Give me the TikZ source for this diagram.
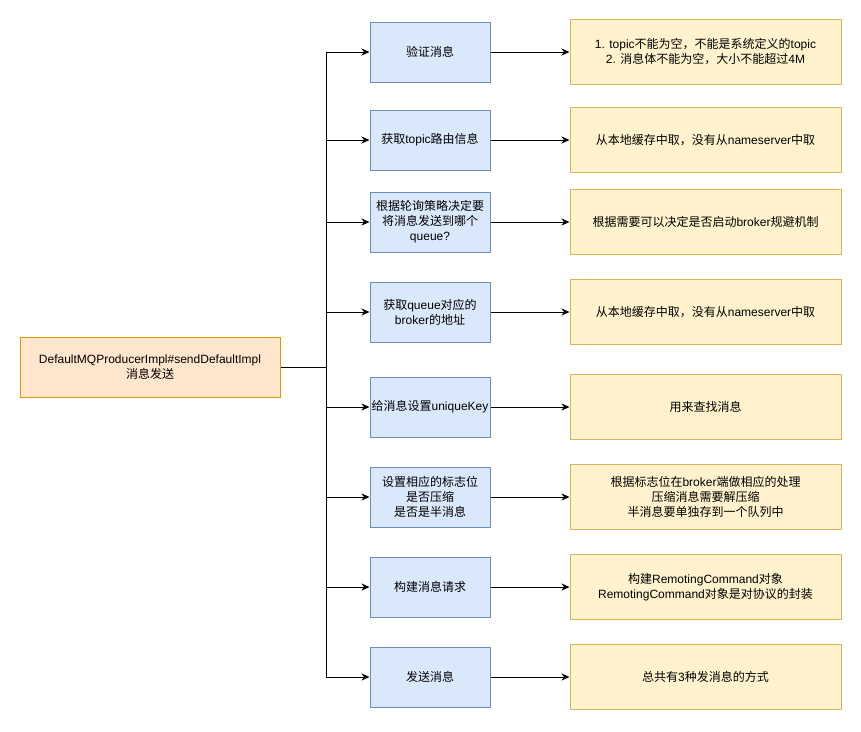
\documentclass[tikz,border=0pt]{standalone}
\usepackage{fontspec}
\setmainfont{Liberation Sans}
\newfontfamily\cjk{Noto Sans CJK SC}
\usetikzlibrary{arrows.meta}
\definecolor{midfill}{HTML}{DAE8FC}
\definecolor{midline}{HTML}{6C8EBF}
\definecolor{notefill}{HTML}{FFF2CC}
\definecolor{noteline}{HTML}{D6B656}
\definecolor{rootfill}{HTML}{FFE6CC}
\definecolor{rootline}{HTML}{D79B00}
\tikzset{
 base/.style={draw, line width=1pt, align=center, inner sep=0pt, font=\fontsize{12}{15}\selectfont},
 midbox/.style={base, fill=midfill, draw=midline, minimum width=120pt, minimum height=60pt},
 notebox/.style={base, fill=notefill, draw=noteline, minimum width=271pt, minimum height=65pt},
 rootbox/.style={base, fill=rootfill, draw=rootline, minimum width=260pt, minimum height=60pt},
 link/.style={draw, line width=1pt, -{Stealth[length=8pt,width=7pt,inset=2.5pt]}},
 trunk/.style={draw, line width=1pt},
}
\begin{document}
\begin{tikzpicture}[x=1pt,y=-1pt]
\useasboundingbox[fill=white] (0,0) rectangle (861,731);
\node[rootbox] (root) at (150,367) {DefaultMQProducerImpl\#sendDefaultImpl\\{\cjk 消息发送}};
\coordinate (j) at (326,367);

\node[midbox] (m1) at (430,52) {{\cjk 验证消息}};
\node[midbox] (m2) at (430,140) {{\cjk 获取}topic{\cjk 路由信息}};
\node[midbox] (m3) at (430,222) {{\cjk 根据轮询策略决定要}\\{\cjk 将消息发送到哪个}\\queue?};
\node[midbox] (m4) at (430,312) {{\cjk 获取}queue{\cjk 对应的}\\broker{\cjk 的地址}};
\node[midbox] (m5) at (430,407) {{\cjk 给消息设置}uniqueKey};
\node[midbox] (m6) at (430,497) {{\cjk 设置相应的标志位}\\{\cjk 是否压缩}\\{\cjk 是否是半消息}};
\node[midbox] (m7) at (430,587) {{\cjk 构建消息请求}};
\node[midbox] (m8) at (430,677) {{\cjk 发送消息}};

\node[notebox] (n1) at (705.5,52) {1. topic{\cjk 不能为空，不能是系统定义的}topic\\2. {\cjk 消息体不能为空，大小不能超过}4M};
\node[notebox] (n2) at (705.5,140) {{\cjk 从本地缓存中取，没有从}nameserver{\cjk 中取}};
\node[notebox] (n3) at (705.5,222) {{\cjk 根据需要可以决定是否启动}broker{\cjk 规避机制}};
\node[notebox] (n4) at (705.5,312) {{\cjk 从本地缓存中取，没有从}nameserver{\cjk 中取}};
\node[notebox] (n5) at (705.5,407) {{\cjk 用来查找消息}};
\node[notebox] (n6) at (705.5,497) {{\cjk 根据标志位在}broker{\cjk 端做相应的处理}\\{\cjk 压缩消息需要解压缩}\\{\cjk 半消息要单独存到一个队列中}};
\node[notebox] (n7) at (705.5,587) {{\cjk 构建}RemotingCommand{\cjk 对象}\\RemotingCommand{\cjk 对象是对协议的封装}};
\node[notebox] (n8) at (705.5,677) {{\cjk 总共有}3{\cjk 种发消息的方式}};

\draw[trunk] (root.east) -- (j);
\foreach \k in {1,...,8} {
  \draw[link] (j) |- (m\k.west);
  \draw[link] (m\k.east) -- (n\k.west);
}
\end{tikzpicture}
\end{document}
